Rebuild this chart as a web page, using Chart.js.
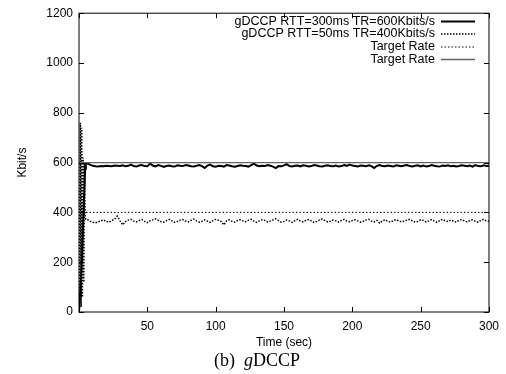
<!DOCTYPE html>
<html>
<head>
<meta charset="utf-8">
<script src="https://cdn.jsdelivr.net/npm/chart.js@4"></script>
<style>
html,body{margin:0;padding:0;background:#fff;}
#wrap{position:relative;width:506px;height:374px;}
#cap{position:absolute;left:0;width:514px;top:349px;text-align:center;font-family:"Liberation Serif","Times New Roman",serif;font-size:18px;color:#000;line-height:22px;}
</style>
</head>
<body>
<div id="wrap"><canvas id="c" width="506" height="374"></canvas><div id="cap">(b)&nbsp; <i>g</i>DCCP</div></div>
<script>
// ---- data ----
const xTicks = [0, 50, 100, 150, 200, 250, 300];
const yTicks = [0, 200, 400, 600, 800, 1000, 1200];
const legendLabels = ['gDCCP RTT=300ms TR=600Kbits/s', 'gDCCP RTT=50ms TR=400Kbits/s', 'Target Rate', 'Target Rate'];

// start-up phase (explicit points)
const s1StartTime = [0, 2, 3.5, 4.5, 5];
const s1StartRate = [0, 190, 430, 575, 595];
const s2StartTime = [0, 1.0, 1.5, 2.0, 2.5, 3.0, 3.5, 4.0, 4.5, 5];
const s2StartRate = [0, 760, 20, 740, 60, 620, 120, 600, 380, 372];

// steady phase, one sample every 2 s from t = 6 s
const s1Steady = [
 597,592,587,585,584,586,585,587,586,585,588,587,586,589,585,587,592,586,
 584,588,590,586,585,596,588,585,590,587,583,586,588,585,584,589,587,586,590,588,
 585,584,587,590,586,578,588,592,585,583,587,586,584,590,588,585,583,586,589,587,
 586,584,590,596,588,585,587,586,590,587,584,578,586,585,589,594,586,584,587,588,
 585,589,587,584,586,590,588,585,584,587,589,586,585,588,584,586,590,587,592,588,
 586,584,588,587,585,589,586,578,587,590,586,585,588,586,584,589,587,585,588,590,
 586,584,587,589,585,588,584,586,590,587,585,584,588,586,589,585,587,584,586,589,
 587,585,588,584,590,586,585,589,586,587
];
const s2Steady = [
 372,365,360,358,362,366,370,364,361,368,372,385,366,350,363,369,372,365,
 362,367,371,364,359,366,370,374,368,363,361,367,372,366,360,364,369,371,365,362,
 368,373,366,361,364,370,365,360,367,372,368,363,350,366,370,364,361,367,371,366,
 363,369,372,365,360,366,371,368,362,365,370,374,367,361,364,369,366,360,367,372,
 365,362,368,371,366,360,364,370,373,367,362,365,369,366,361,368,372,365,363,367,
 370,366,361,364,369,372,365,362,368,357,366,370,364,361,367,371,366,362,365,369,
 372,366,361,364,370,368,362,366,371,365,360,367,372,366,363,369,365,361,368,371,
 366,362,367,370,364,361,368,372,366,364
];
const steadyStart = 6, steadyStep = 2;
const target1 = 600, target2 = 400;

// ---- build library data ----
function pts(t, v){ return t.map((x,i)=>({x:x, y:v[i]})); }
function steadyPts(v){ return v.map((y,i)=>({x:steadyStart + steadyStep*i, y:y})); }
const d1 = pts(s1StartTime, s1StartRate).concat(steadyPts(s1Steady));
const d2 = pts(s2StartTime, s2StartRate).concat(steadyPts(s2Steady));
const dT2 = [{x:0,y:target2},{x:300,y:target2}];
const dT1 = [{x:0,y:target1},{x:300,y:target1}];

const styles = [
  {color:'#000', width:2, dash:[]},
  {color:'#000', width:1.5, dash:[1.5,1.5]},
  {color:'#000', width:1, dash:[1.5,2]},
  {color:'#666', width:1.4, dash:[]}
];

const frame = {
  id:'frame',
  afterDatasetsDraw(chart){
    const {ctx, chartArea:a, scales:{x, y}} = chart;
    ctx.save();
    ctx.strokeStyle = '#000';
    ctx.lineWidth = 1;
    ctx.setLineDash([]);
    ctx.strokeRect(a.left, a.top, a.right - a.left, a.bottom - a.top);
    const L = 5;
    ctx.beginPath();
    xTicks.forEach(v=>{
      const px = Math.round(x.getPixelForValue(v)) + 0.5;
      ctx.moveTo(px, a.bottom); ctx.lineTo(px, a.bottom - L);
      ctx.moveTo(px, a.top); ctx.lineTo(px, a.top + L);
    });
    yTicks.forEach(v=>{
      const py = Math.round(y.getPixelForValue(v)) + 0.5;
      ctx.moveTo(a.left, py); ctx.lineTo(a.left + L, py);
      ctx.moveTo(a.right, py); ctx.lineTo(a.right - L, py);
    });
    ctx.stroke();
    // legend
    ctx.font = '12.5px "Liberation Sans", Arial, sans-serif';
    ctx.fillStyle = '#000';
    ctx.textAlign = 'right';
    ctx.textBaseline = 'middle';
    const rows = [21.5, 34, 47, 59.5];
    legendLabels.forEach((t,i)=>{
      ctx.fillText(t, 435, rows[i]);
      const s = styles[i];
      ctx.strokeStyle = s.color; ctx.lineWidth = s.width; ctx.setLineDash(s.dash);
      ctx.beginPath(); ctx.moveTo(441, rows[i]); ctx.lineTo(475, rows[i]); ctx.stroke();
    });
    ctx.restore();
  }
};

const ds = (label, data, s) => ({label, data, borderColor:s.color, borderWidth:s.width, borderDash:s.dash,
  pointRadius:0, fill:false, tension:0, borderJoinStyle:'miter'});

const font12 = {family:'"Liberation Sans", Arial, sans-serif', size:12};

new Chart(document.getElementById('c'), {
  type:'line',
  data:{datasets:[
    ds(legendLabels[2], dT2, styles[2]),
    ds(legendLabels[3], dT1, styles[3]),
    ds(legendLabels[1], d2, styles[1]),
    ds(legendLabels[0], d1, styles[0])
  ]},
  options:{
    responsive:false, animation:false, events:[],
    layout:{padding:{left:0, right:16, top:13, bottom:0}},
    plugins:{legend:{display:false}, tooltip:{enabled:false}},
    scales:{
      x:{type:'linear', min:0, max:300,
        afterFit(s){ s.height = 62; },
        afterBuildTicks(s){ s.ticks = xTicks.map(v=>({value:v})); },
        grid:{display:false, drawTicks:false}, border:{display:false},
        ticks:{padding:7, color:'#000', font:font12,
          callback:v=> v===0 ? '' : String(v), maxRotation:0, autoSkip:false},
        title:{display:true, text:'Time (sec)', color:'#000', font:font12,
          padding:{top:0, bottom:24}}
      },
      y:{type:'linear', min:0, max:1200,
        afterFit(s){ s.width = 79; },
        afterBuildTicks(s){ s.ticks = yTicks.map(v=>({value:v})); },
        grid:{display:false, drawTicks:false}, border:{display:false},
        ticks:{padding:6, color:'#000', font:font12, callback:v=>String(v)},
        title:{display:true, text:'Kbit/s', color:'#000', font:font12,
          padding:{top:15, bottom:0}}
      }
    }
  },
  plugins:[frame]
});
</script>
</body>
</html>
